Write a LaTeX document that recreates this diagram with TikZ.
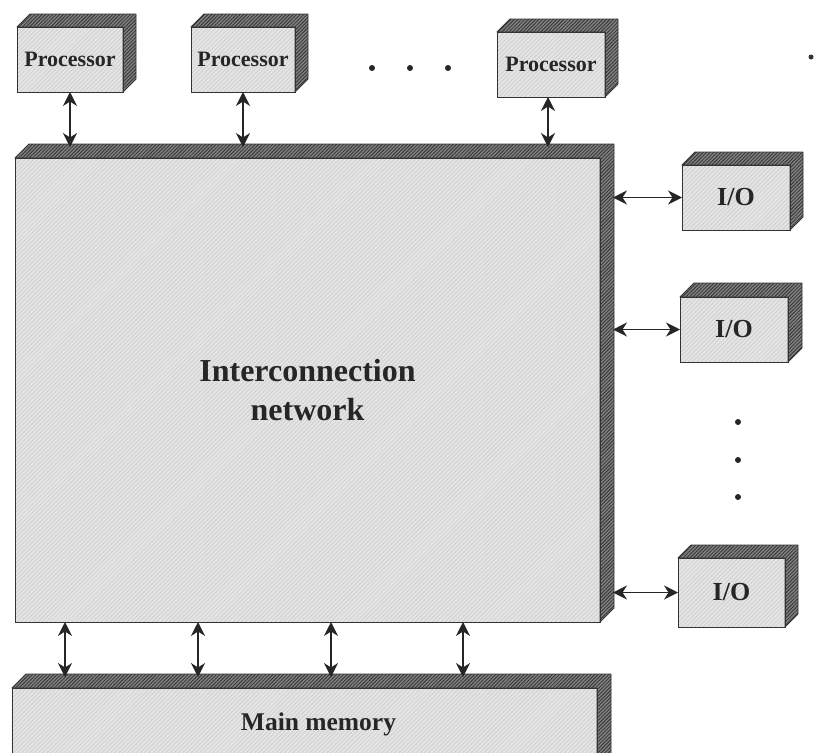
\documentclass[tikz,border=0pt]{standalone}
\usepackage{fontspec}
\setmainfont{Liberation Serif}
\usetikzlibrary{calc,arrows.meta,patterns.meta}
\definecolor{frontgray}{HTML}{E4E4E4}
\definecolor{fronthatch}{HTML}{C8C8C8}
\definecolor{darkgray}{HTML}{808080}
\definecolor{darkhatch}{HTML}{333333}
\definecolor{edge}{HTML}{333333}
\tikzset{
  frontface/.style={draw=edge, line width=0.9pt, inner sep=0pt, outer sep=0pt,
    preaction={fill=frontgray},
    pattern={Lines[angle=45,distance=3pt,line width=0.5pt]}, pattern color=fronthatch,
    font=\bfseries, text=black!85, align=center},
  depthface/.style={draw=edge, line width=0.9pt, line join=round,
    preaction={fill=darkgray},
    pattern={Lines[angle=45,distance=2.5pt,line width=0.8pt]}, pattern color=darkhatch},
  arr/.style={line width=1.2pt, draw=black!85,
    {Stealth[length=14pt,width=14pt,inset=4.5pt]}-{Stealth[length=14pt,width=14pt,inset=4.5pt]}},
  dotmark/.style={circle, fill=black!85, inner sep=0pt, minimum size=6pt},
  proctext/.style={font=\bfseries\fontsize{22}{24}\selectfont},
  iotext/.style={font=\bfseries\fontsize{26}{28}\selectfont},
}
\newcommand\depthfaces[2]{%
  \path[depthface] (#1.north west) -- ++(#2,-#2) -- ($(#1.north east)+(#2,-#2)$)
    -- ($(#1.south east)+(#2,-#2)$) -- (#1.south east) -- (#1.north east) -- cycle;
  \draw[edge, line width=0.9pt] (#1.north west) -- (#1.north east) -- (#1.south east);
}
\begin{document}
\begin{tikzpicture}[x=1pt,y=-1pt]
\useasboundingbox (0,0) rectangle (815,753);
\begin{scope}
\clip (0,0) rectangle (815,753);
% processors
\node[frontface, proctext, minimum width=106, minimum height=65] (p1) at (70,59.5) {Processor};
\depthfaces{p1}{13}
\node[frontface, proctext, minimum width=104, minimum height=65] (p2) at (243,59.5) {Processor};
\depthfaces{p2}{13}
\node[frontface, proctext, minimum width=108, minimum height=65] (p3) at (551,64.5) {Processor};
\depthfaces{p3}{13}
\node[dotmark] (hd1) at (372,68) {};
\node[dotmark] (hd2) at (410,68) {};
\node[dotmark] (hd3) at (448,68) {};
\node[circle, fill=black!80, inner sep=0pt, minimum size=5pt] (stray) at (811,57) {};
% network
\node[frontface, minimum width=585, minimum height=464, font=\bfseries\fontsize{32}{39}\selectfont] (net) at (307.5,390) {Interconnection\\network};
\depthfaces{net}{14}
% main memory
\node[frontface, minimum width=585, minimum height=80, font=\bfseries\fontsize{25.5}{27}\selectfont] (mem) at (304.5,728) {\raisebox{12pt}{\hspace*{28pt}Main memory}};
\depthfaces{mem}{14}
% I/O
\node[frontface, iotext, minimum width=108, minimum height=65] (io1) at (736,197.5) {I/O};
\depthfaces{io1}{13}
\node[frontface, iotext, minimum width=108, minimum height=65] (io2) at (734,329.5) {I/O};
\depthfaces{io2}{14}
\node[frontface, iotext, minimum width=107, minimum height=69] (io3) at (731.5,592.5) {I/O};
\depthfaces{io3}{13}
\node[dotmark] (vd1) at (738,422) {};
\node[dotmark] (vd2) at (738,460) {};
\node[dotmark] (vd3) at (738,497) {};
% coordinates on depth faces
\coordinate (nettop) at ($(net.north)+(0,-11)$);
\coordinate (memtop) at ($(mem.north)+(0,-11)$);
\coordinate (netside) at ($(net.east)+(13,0)$);
% arrows processors
\draw[arr] (p1.south) -- (p1.south |- nettop);
\draw[arr] (p2.south) -- (p2.south |- nettop);
\draw[arr] ($(p3.south)+(-3,0)$) -- ($(p3.south |- nettop)+(-3,0)$);
% arrows memory
\foreach \xx/\nm in {65/a,198/b,331/c,463/d}{
  \coordinate (mu\nm) at (\xx,622);
  \draw[arr] (mu\nm) -- (mu\nm |- memtop);
}
% arrows I/O
\draw[arr] (netside |- io1.west) -- (io1.west);
\draw[arr] (netside |- io2.west) -- (io2.west);
\draw[arr] (netside |- io3.west) -- (io3.west);
\end{scope}
\end{tikzpicture}
\end{document}
